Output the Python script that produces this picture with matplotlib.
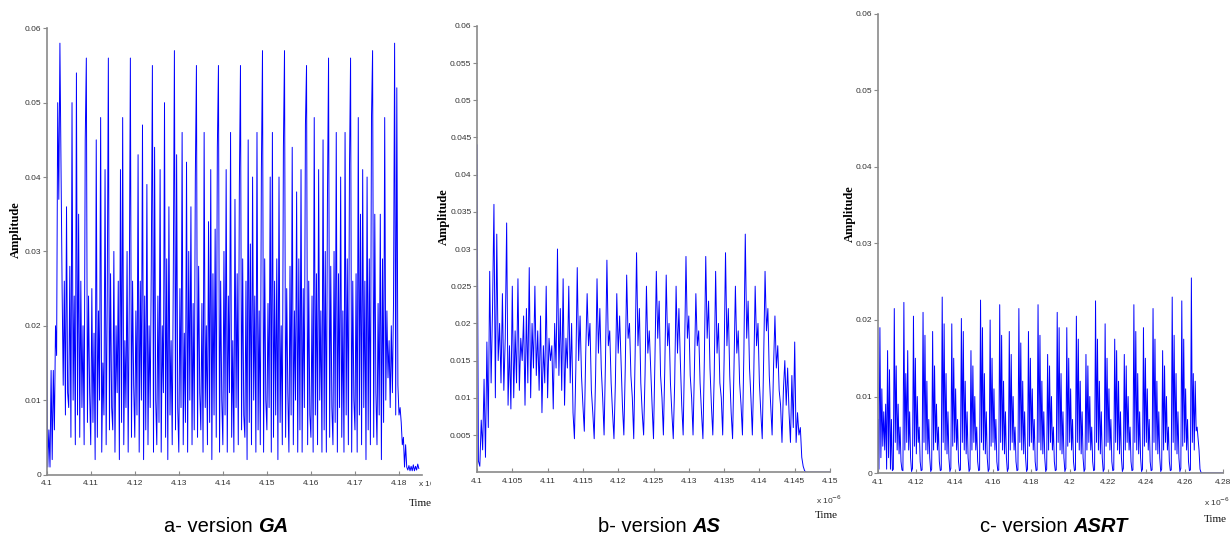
import matplotlib
matplotlib.use("Agg")
import matplotlib.pyplot as plt
import numpy as np
from matplotlib.transforms import Bbox

# amplitudes, in units of 1e-3, one sample per time step
amp_a = [
    22, 1, 6, 1, 14, 2, 14, 6, 20, 16, 50, 37, 58, 42, 25, 12, 26, 8, 36, 11,
    9, 28, 5, 50, 10, 24, 4, 54, 8, 35, 5, 26, 9, 20, 4, 45, 56, 7, 24, 11,
    4, 25, 7, 19, 2, 45, 5, 22, 10, 48, 3, 15, 8, 41, 4, 24, 56, 6, 27, 9,
    6, 30, 3, 20, 11, 26, 2, 41, 7, 48, 4, 18, 9, 30, 3, 24, 56, 5, 26, 12,
    5, 22, 8, 43, 3, 26, 10, 47, 2, 24, 6, 39, 4, 20, 9, 28, 55, 3, 44, 10,
    4, 24, 7, 41, 3, 20, 11, 50, 5, 29, 2, 36, 8, 18, 4, 27, 57, 6, 43, 9,
    3, 25, 9, 46, 4, 19, 7, 42, 3, 30, 10, 36, 4, 23, 6, 40, 55, 5, 28, 11,
    6, 23, 3, 46, 9, 20, 4, 34, 7, 41, 2, 27, 8, 33, 5, 44, 55, 3, 26, 10,
    4, 30, 8, 41, 3, 24, 11, 46, 5, 18, 3, 37, 9, 27, 4, 39, 55, 6, 29, 8,
    5, 26, 2, 45, 7, 31, 4, 40, 10, 24, 3, 46, 6, 22, 4, 41, 57, 3, 29, 10,
    6, 23, 9, 40, 3, 46, 5, 26, 8, 29, 2, 40, 7, 20, 4, 44, 57, 5, 25, 11,
    3, 28, 8, 44, 4, 22, 10, 38, 3, 29, 6, 41, 3, 25, 9, 47, 55, 4, 26, 8,
    5, 24, 3, 48, 8, 27, 4, 41, 10, 22, 3, 45, 6, 30, 3, 37, 56, 5, 28, 9,
    4, 30, 7, 46, 3, 27, 9, 40, 5, 22, 3, 46, 8, 29, 4, 41, 56, 3, 26, 10,
    6, 27, 3, 48, 8, 35, 4, 41, 9, 26, 2, 40, 6, 29, 4, 48, 57, 5, 35, 11,
    4, 23, 8, 35, 2, 29, 7, 48, 10, 22, 13, 18, 9, 20, 11, 23, 58, 8, 52, 12,
    8, 9, 7, 4, 5, 1, 4, 1, 0.6, 1.2, 0.5, 1.1, 0.5, 1.3, 0.5, 1.1, 0.6, 1.4, 0.8,
]

amp_b = [
    44, 1.5, 0.8, 7, 3, 12.5, 2, 17.5, 6, 27, 12, 22, 36, 10, 32, 15, 20, 12, 24, 11,
    18, 33.5, 9, 17, 8.5, 25, 10, 19, 12, 26, 11, 18, 15, 21, 9, 22, 12, 27.5, 10, 20,
    14, 25, 13, 19, 11, 21, 8, 17, 12, 25, 10, 18, 15, 17, 8.5, 20, 14, 30, 13, 22,
    11, 26, 9, 18, 14, 25, 12, 20, 8,
    4.5, 14, 27.5, 15, 21, 13, 9,
    5.5, 16, 24, 17, 20, 11, 8,
    4.5, 13, 26, 16, 22, 14, 10,
    5, 15, 28.5, 17, 19, 12, 8,
    4.5, 12, 24, 16, 21, 15, 9,
    5, 14, 26.5, 18, 20, 13, 10,
    4.5, 16, 29.5, 17, 22, 12, 8,
    5, 13, 25, 16, 19, 14, 9,
    4.5, 15, 27, 18, 23, 13, 10,
    5, 14, 26.5, 17, 20, 12, 8,
    4.5, 12, 25, 16, 22, 15, 9,
    5, 16, 29, 18, 21, 13, 10,
    5, 14, 24, 17, 19, 12, 8,
    4.5, 15, 29, 18, 23, 14, 9,
    5, 13, 27, 16, 20, 12, 10,
    5, 15, 29.5, 17, 22, 13, 8,
    4.5, 14, 25, 16, 19, 12, 9,
    5, 16, 32, 18, 23, 14, 10,
    5, 13, 25, 17, 20, 12, 8,
    4.5, 15, 27, 19, 22, 13, 9,
    5, 14, 21, 14, 17, 11, 9,
    4, 11, 15, 9, 14, 8, 4,
    13, 6, 17.5, 4, 8, 5, 6, 2, 0.8, 0.2, 0,
    0, 0, 0, 0, 0, 0, 0, 0, 0, 0, 0, 0, 0, 0, 0, 0, 0,
]

amp_c = [
    7, 0.5, 19, 2, 11, 3.5, 8, 3, 9, 0.5, 16, 2, 13.5, 0.5, 7,
    0.3, 0.5, 21.5, 4, 14, 3, 9, 2.5, 6, 1.5,
    0.4, 0.3, 22.3, 3, 13, 4, 16, 3, 8, 2,
    0.2, 0.6, 20.5, 3.5, 15, 2.5, 10, 4, 6, 1.5,
    0.3, 0.4, 21, 4, 18, 3, 12, 2.5, 7, 2,
    0.2, 0.5, 18.5, 3, 14, 4, 9, 3, 6, 1.5,
    0.3, 0.4, 23, 4, 19.5, 3, 13, 2.5, 8, 2,
    0.2, 0.6, 19.5, 3.5, 15, 4, 11, 3, 7, 1.5,
    0.3, 0.4, 20.2, 4, 18.5, 3, 12, 2.5, 8, 2,
    0.2, 0.5, 16, 3, 14, 4, 10, 3, 6, 1.5,
    0.3, 0.4, 22.6, 4, 19, 3, 13, 2.5, 8, 2,
    0.2, 0.5, 20, 3.5, 15, 4, 11, 3, 7, 1.5,
    0.3, 0.4, 22, 4, 18, 3, 12, 2.5, 8, 2,
    0.2, 0.6, 18.5, 3, 15.5, 4, 10, 3, 6, 1.5,
    0.3, 0.4, 21.5, 4, 17, 3, 12, 2.5, 8, 2,
    0.2, 0.5, 18.5, 3.5, 15, 4, 11, 3, 7, 1.5,
    0.3, 0.4, 22, 4, 18, 3, 12, 2.5, 8, 2,
    0.2, 0.5, 15.5, 3, 14, 4, 10, 3, 6, 1.5,
    0.3, 0.4, 21, 4, 19, 3, 13, 2.5, 8, 2,
    0.2, 0.6, 19, 3.5, 15, 4, 11, 3, 7, 1.5,
    0.3, 0.4, 20.5, 4, 17.5, 3, 12, 2.5, 8, 2,
    0.2, 0.5, 15.5, 3, 14, 4, 10, 3, 6, 1.5,
    0.3, 0.4, 22.5, 4, 17.5, 3, 12, 2.5, 8, 2,
    0.2, 0.5, 19.5, 3.5, 15, 4, 11, 3, 7, 1.5,
    0.3, 0.4, 17.5, 4, 16, 3, 12, 2.5, 8, 2,
    0.2, 0.6, 15.5, 3, 14, 4, 10, 3, 6, 1.5,
    0.3, 0.4, 22, 4, 18.5, 3, 13, 2.5, 8, 2,
    0.2, 0.5, 19, 3.5, 15, 4, 11, 3, 7, 1.5,
    0.3, 0.4, 21.5, 4, 17.5, 3, 12, 2.5, 8, 2,
    0.2, 0.5, 16, 3, 14, 4, 10, 3, 6, 1.5,
    0.3, 0.4, 23, 4, 18, 3, 13, 2.5, 8, 2,
    0.2, 0.6, 22.5, 3.5, 17.5, 4, 11, 3, 7, 1.5,
    0.3, 0.4, 25.5, 4, 13, 3, 12, 5.5, 6, 4.5,
    3, 0.5, 0.1, 0, 0, 0, 0, 0, 0, 0, 0, 0, 0, 0, 0, 0, 0, 0, 0, 0, 0, 0, 0, 0, 0, 0,
]

# time axis (x 1e-6 s): start and sample step of each trace
t_start = [4.1, 4.1, 4.1]
t_step = [0.00025, 0.0002, 0.0005]

xticks_a = [4.1, 4.11, 4.12, 4.13, 4.14, 4.15, 4.16, 4.17, 4.18]
xlabels_a = ["4.1", "4.11", "4.12", "4.13", "4.14", "4.15", "4.16", "4.17", "4.18"]
xticks_b = [4.1, 4.105, 4.11, 4.115, 4.12, 4.125, 4.13, 4.135, 4.14, 4.145, 4.15]
xlabels_b = ["4.1", "4.105", "4.11", "4.115", "4.12", "4.125", "4.13", "4.135", "4.14", "4.145", "4.15"]
xticks_c = [4.1, 4.12, 4.14, 4.16, 4.18, 4.2, 4.22, 4.24, 4.26, 4.28]
xlabels_c = ["4.1", "4.12", "4.14", "4.16", "4.18", "4.2", "4.22", "4.24", "4.26", "4.28"]

yticks_ac = [0, 0.01, 0.02, 0.03, 0.04, 0.05, 0.06]
ylabels_ac = ["0", "0.01", "0.02", "0.03", "0.04", "0.05", "0.06"]
yticks_b = [0.005, 0.01, 0.015, 0.02, 0.025, 0.03, 0.035, 0.04, 0.045, 0.05, 0.055, 0.06]
ylabels_b = ["0.005", "0.01", "0.015", "0.02", "0.025", "0.03", "0.035", "0.04", "0.045", "0.05", "0.055", "0.06"]

captions = [("a- version ", "GA"), ("b- version ", "AS"), ("c- version ", "ASRT")]

W, H = 1232, 542
fig = plt.figure(figsize=(W / 100, H / 100), dpi=100)
fig.patch.set_facecolor("white")

tick_font = ["Liberation Sans Narrow", "DejaVu Sans Condensed", "Liberation Sans"]
serif = "Liberation Serif"


def fig_xy(x, y):
    return x / W, 1 - y / H


def panel(box, amp, t0, dt, xlim, xticks, xlabels, yticks, ylabels):
    left, top, right, bottom = box
    ax = fig.add_axes([left / W, 1 - bottom / H, (right - left) / W, (bottom - top) / H])
    t = t0 + dt * np.arange(len(amp))
    ax.plot(t, np.array(amp) * 1e-3, color="#0000ff", lw=0.7)
    ax.set_xlim(xlim)
    ax.set_ylim(0, 0.06)
    ax.set_xticks(xticks, xlabels)
    ax.set_yticks(yticks, ylabels)
    for s in ["top", "right"]:
        ax.spines[s].set_visible(False)
    for s in ["left", "bottom"]:
        ax.spines[s].set_color("#8a8a8a")
        ax.spines[s].set_linewidth(1.2)
    ax.tick_params(axis="x", direction="in", length=3, pad=4, colors="#8a8a8a",
                   labelcolor="#333333", labelsize=6)
    ax.tick_params(axis="y", direction="out", length=3, pad=1, colors="#8a8a8a",
                   labelcolor="#333333", labelsize=6)
    for lab in ax.get_xticklabels() + ax.get_yticklabels():
        lab.set_family(tick_font)
    return ax


panel((46.7, 28.3, 422, 474.5), amp_a, t_start[0], t_step[0], (4.1, 4.18522),
      xticks_a, xlabels_a, yticks_ac, ylabels_ac)
panel((477, 25.8, 830, 472.2), amp_b, t_start[1], t_step[1], (4.1, 4.15),
      xticks_b, xlabels_b, yticks_b, ylabels_b)
panel((878, 14, 1223, 473), amp_c, t_start[2], t_step[2], (4.1, 4.28),
      xticks_c, xlabels_c, yticks_ac, ylabels_ac)

# axis labels
for x, y in [(16, 230), (444, 217), (850, 214)]:
    fig.text(*fig_xy(x, y), "Amplitude", rotation=90, ha="center", va="center",
             family=serif, weight="bold", fontsize=9)
for x, y in [(420, 503), (826, 516), (1215, 519)]:
    fig.text(*fig_xy(x, y), "Time", ha="center", va="center", family=serif,
             fontsize=8, color="#111111")
mult = []
for x, y in [(418, 483), (816, 500), (1204, 502)]:
    mult.append(fig.text(*fig_xy(x, y), r"x 10$^{-6}$", ha="left", va="center",
                         family=tick_font, fontsize=6, color="#333333"))
# the first multiplier is cut off by the middle panel in the original
mult[0].set_clip_box(Bbox.from_extents(0, 0, 431, H))
mult[0].set_clip_on(True)

# captions: plain part followed by a bold italic name
renderer = fig.canvas.get_renderer()
for (plain, name), cx in zip(captions, [226, 659, 1054]):
    t1 = fig.text(0, 0, plain, fontsize=14.5, family="Liberation Sans", va="center")
    t2 = fig.text(0, 0, name, fontsize=14.5, family="Liberation Sans", va="center",
                  weight="bold", style="italic")
    w1 = t1.get_window_extent(renderer).width
    w2 = t2.get_window_extent(renderer).width
    x0 = cx - (w1 + w2) / 2
    t1.set_position(fig_xy(x0, 526))
    t2.set_position(fig_xy(x0 + w1, 526))

fig.savefig("out.png", dpi=100)
